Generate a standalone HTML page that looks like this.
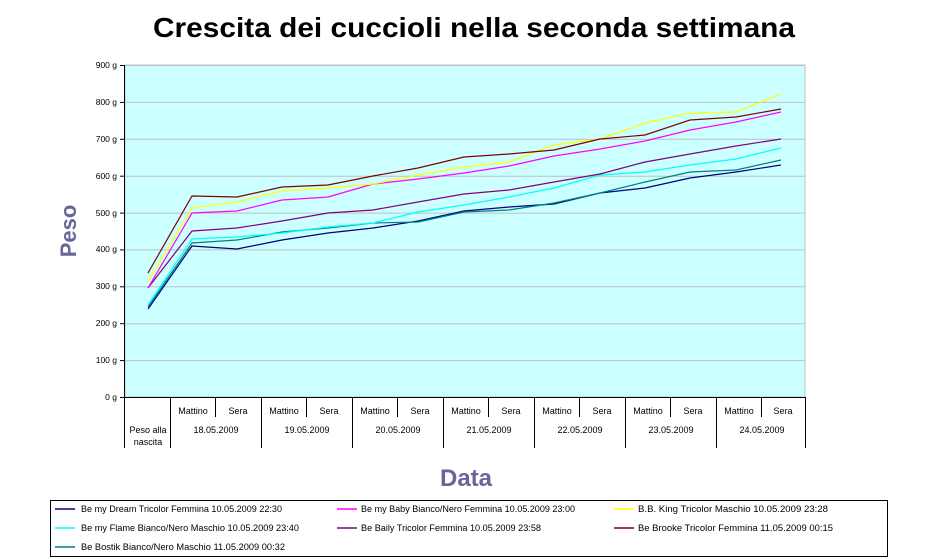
<!DOCTYPE html>
<html><head><meta charset="utf-8"><style>
html,body{margin:0;padding:0;background:#fff;}
svg{display:block;font-family:"Liberation Sans",Arial,sans-serif;}
</style></head><body>
<svg width="946" height="559" viewBox="0 0 946 559" xmlns="http://www.w3.org/2000/svg">
<text x="474" y="37" text-anchor="middle" font-size="28" font-weight="bold" textLength="642" lengthAdjust="spacingAndGlyphs">Crescita dei cuccioli nella seconda settimana</text>
<rect x="125" y="65" width="680" height="332" fill="#ccffff" stroke="#c0c0c0" stroke-width="1"/>
<g stroke="#c0c0c0" stroke-width="1">
<line x1="125" y1="65.5" x2="805" y2="65.5"/>
<line x1="125" y1="102.4" x2="805" y2="102.4"/>
<line x1="125" y1="139.3" x2="805" y2="139.3"/>
<line x1="125" y1="176.2" x2="805" y2="176.2"/>
<line x1="125" y1="213.1" x2="805" y2="213.1"/>
<line x1="125" y1="249.9" x2="805" y2="249.9"/>
<line x1="125" y1="286.8" x2="805" y2="286.8"/>
<line x1="125" y1="323.7" x2="805" y2="323.7"/>
<line x1="125" y1="360.6" x2="805" y2="360.6"/>
</g>
<g font-size="8.5" text-anchor="end">
<text x="117" y="68">900 g</text><text x="117" y="105">800 g</text><text x="117" y="142">700 g</text>
<text x="117" y="179">600 g</text><text x="117" y="216">500 g</text><text x="117" y="252">400 g</text>
<text x="117" y="289">300 g</text><text x="117" y="326">200 g</text><text x="117" y="363">100 g</text>
<text x="117" y="400">0 g</text>
</g>
<g stroke="#000" stroke-width="1">
<line x1="124.5" y1="65" x2="124.5" y2="448"/>
<line x1="120" y1="65.5" x2="125" y2="65.5"/><line x1="120" y1="102.4" x2="125" y2="102.4"/>
<line x1="120" y1="139.3" x2="125" y2="139.3"/><line x1="120" y1="176.2" x2="125" y2="176.2"/>
<line x1="120" y1="213.1" x2="125" y2="213.1"/><line x1="120" y1="249.9" x2="125" y2="249.9"/>
<line x1="120" y1="286.8" x2="125" y2="286.8"/><line x1="120" y1="323.7" x2="125" y2="323.7"/>
<line x1="120" y1="360.6" x2="125" y2="360.6"/><line x1="120" y1="397.5" x2="125" y2="397.5"/>
<line x1="125" y1="397.5" x2="806" y2="397.5"/>
<line x1="170.5" y1="397" x2="170.5" y2="448"/>
<line x1="261.5" y1="397" x2="261.5" y2="448"/>
<line x1="352.5" y1="397" x2="352.5" y2="448"/>
<line x1="443.5" y1="397" x2="443.5" y2="448"/>
<line x1="534.5" y1="397" x2="534.5" y2="448"/>
<line x1="625.5" y1="397" x2="625.5" y2="448"/>
<line x1="716.5" y1="397" x2="716.5" y2="448"/>
<line x1="805.5" y1="397" x2="805.5" y2="448"/>
<line x1="215.5" y1="397" x2="215.5" y2="417"/>
<line x1="306.5" y1="397" x2="306.5" y2="417"/>
<line x1="397.5" y1="397" x2="397.5" y2="417"/>
<line x1="488.5" y1="397" x2="488.5" y2="417"/>
<line x1="579.5" y1="397" x2="579.5" y2="417"/>
<line x1="670.5" y1="397" x2="670.5" y2="417"/>
<line x1="761.5" y1="397" x2="761.5" y2="417"/>
</g>
<g font-size="9" text-anchor="middle">
<text x="193" y="414">Mattino</text><text x="238" y="414">Sera</text>
<text x="284" y="414">Mattino</text><text x="329" y="414">Sera</text>
<text x="375" y="414">Mattino</text><text x="420" y="414">Sera</text>
<text x="466" y="414">Mattino</text><text x="511" y="414">Sera</text>
<text x="557" y="414">Mattino</text><text x="602" y="414">Sera</text>
<text x="648" y="414">Mattino</text><text x="693" y="414">Sera</text>
<text x="739" y="414">Mattino</text><text x="783" y="414">Sera</text>
<text x="148" y="433">Peso alla</text><text x="148" y="445">nascita</text>
<text x="216" y="433">18.05.2009</text><text x="307" y="433">19.05.2009</text>
<text x="398" y="433">20.05.2009</text><text x="489" y="433">21.05.2009</text>
<text x="580" y="433">22.05.2009</text><text x="671" y="433">23.05.2009</text>
<text x="762" y="433">24.05.2009</text>
</g>
<g fill="none" stroke-width="1.2">
<polyline stroke="#000080" points="148,309 192,246 237,249 282,240 328,233 373,228 418,221 464,211 509,207 554,204 600,193 645,188 690,178 736,172 781,165"/>
<polyline stroke="#008080" points="148,307 192,243 237,240 282,232 328,228 373,223 418,222 464,212 509,210 554,203 600,193 645,182 690,172 736,170 781,160"/>
<polyline stroke="#00ffff" points="148,305 192,239 237,237 282,233 328,227 373,223 418,212 464,205 509,197 554,188 600,175 645,172 690,165 736,159 781,148"/>
<polyline stroke="#800080" points="148,288 192,231 237,228 282,221 328,213 373,210 418,202 464,194 509,190 554,182 600,174 645,162 690,154 736,146 781,139"/>
<polyline stroke="#ff00ff" points="148,288 192,213 237,211 282,200 328,197 373,184 418,179 464,173 509,166 554,156 600,149 645,141 690,130 736,122 781,112"/>
<polyline stroke="#ffff00" points="148,282 192,208 237,202 282,191 328,188 373,184 418,175 464,167 509,162 554,145 600,139 645,123 690,113 736,112 781,94"/>
<polyline stroke="#800000" points="148,273 192,196 237,197 282,187 328,185 373,176 418,168 464,157 509,154 554,150 600,139 645,135 690,120 736,117 781,109"/>
</g>
<text transform="translate(76,231) rotate(-90)" text-anchor="middle" font-size="22" font-weight="bold" fill="#666699">Peso</text>
<text x="466" y="486" text-anchor="middle" font-size="24" font-weight="bold" fill="#666699">Data</text>
<rect x="50.5" y="500.5" width="837" height="56" fill="#fff" stroke="#000" stroke-width="1"/>
<g stroke-width="1.5">
<line x1="55" y1="509" x2="75" y2="509" stroke="#000080"/>
<line x1="337" y1="509" x2="357" y2="509" stroke="#ff00ff"/>
<line x1="614" y1="509" x2="634" y2="509" stroke="#ffff00"/>
<line x1="55" y1="528" x2="75" y2="528" stroke="#00ffff"/>
<line x1="337" y1="528" x2="357" y2="528" stroke="#800080"/>
<line x1="614" y1="528" x2="634" y2="528" stroke="#800000"/>
<line x1="55" y1="547" x2="75" y2="547" stroke="#008080"/>
</g>
<g font-size="9">
<text x="81" y="512" textLength="201" lengthAdjust="spacingAndGlyphs">Be my Dream Tricolor Femmina 10.05.2009 22:30</text>
<text x="361" y="512" textLength="214" lengthAdjust="spacingAndGlyphs">Be my Baby Bianco/Nero Femmina 10.05.2009 23:00</text>
<text x="638" y="512" textLength="190" lengthAdjust="spacingAndGlyphs">B.B. King Tricolor Maschio 10.05.2009 23:28</text>
<text x="81" y="531" textLength="218" lengthAdjust="spacingAndGlyphs">Be my Flame Bianco/Nero Maschio 10.05.2009 23:40</text>
<text x="361" y="531" textLength="180" lengthAdjust="spacingAndGlyphs">Be Baily Tricolor Femmina 10.05.2009 23:58</text>
<text x="638" y="531" textLength="195" lengthAdjust="spacingAndGlyphs">Be Brooke Tricolor Femmina 11.05.2009 00:15</text>
<text x="81" y="550" textLength="204" lengthAdjust="spacingAndGlyphs">Be Bostik Bianco/Nero Maschio 11.05.2009 00:32</text>
</g>
</svg>
</body></html>
